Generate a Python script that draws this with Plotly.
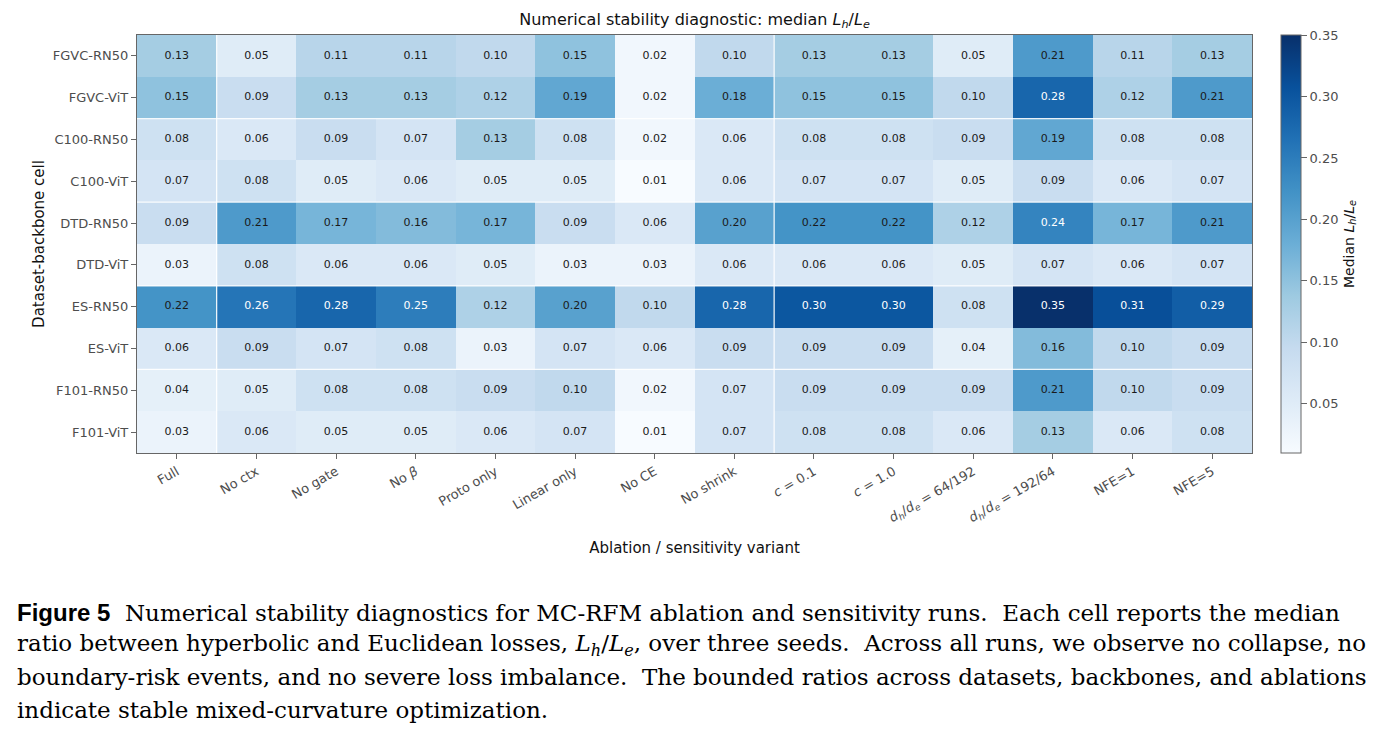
import plotly.graph_objects as go

rows = ["FGVC-RN50", "FGVC-ViT", "C100-RN50", "C100-ViT", "DTD-RN50",
        "DTD-ViT", "ES-RN50", "ES-ViT", "F101-RN50", "F101-ViT"]

cols = ["Full", "No ctx", "No gate", "No <i>β</i>", "Proto only", "Linear only",
        "No CE", "No shrink", "<i>c</i> = 0.1", "<i>c</i> = 1.0",
        "<i>d<sub>h</sub></i>/<i>d<sub>e</sub></i> = 64/192",
        "<i>d<sub>h</sub></i>/<i>d<sub>e</sub></i> = 192/64",
        "NFE=1", "NFE=5"]

fgvc_rn50 = [0.13, 0.05, 0.11, 0.11, 0.10, 0.15, 0.02, 0.10, 0.13, 0.13, 0.05, 0.21, 0.11, 0.13]
fgvc_vit  = [0.15, 0.09, 0.13, 0.13, 0.12, 0.19, 0.02, 0.18, 0.15, 0.15, 0.10, 0.28, 0.12, 0.21]
c100_rn50 = [0.08, 0.06, 0.09, 0.07, 0.13, 0.08, 0.02, 0.06, 0.08, 0.08, 0.09, 0.19, 0.08, 0.08]
c100_vit  = [0.07, 0.08, 0.05, 0.06, 0.05, 0.05, 0.01, 0.06, 0.07, 0.07, 0.05, 0.09, 0.06, 0.07]
dtd_rn50  = [0.09, 0.21, 0.17, 0.16, 0.17, 0.09, 0.06, 0.20, 0.22, 0.22, 0.12, 0.24, 0.17, 0.21]
dtd_vit   = [0.03, 0.08, 0.06, 0.06, 0.05, 0.03, 0.03, 0.06, 0.06, 0.06, 0.05, 0.07, 0.06, 0.07]
es_rn50   = [0.22, 0.26, 0.28, 0.25, 0.12, 0.20, 0.10, 0.28, 0.30, 0.30, 0.08, 0.35, 0.31, 0.29]
es_vit    = [0.06, 0.09, 0.07, 0.08, 0.03, 0.07, 0.06, 0.09, 0.09, 0.09, 0.04, 0.16, 0.10, 0.09]
f101_rn50 = [0.04, 0.05, 0.08, 0.08, 0.09, 0.10, 0.02, 0.07, 0.09, 0.09, 0.09, 0.21, 0.10, 0.09]
f101_vit  = [0.03, 0.06, 0.05, 0.05, 0.06, 0.07, 0.01, 0.07, 0.08, 0.08, 0.06, 0.13, 0.06, 0.08]

values = [fgvc_rn50, fgvc_vit, c100_rn50, c100_vit, dtd_rn50,
          dtd_vit, es_rn50, es_vit, f101_rn50, f101_vit]

cbar_ticks = [0.05, 0.10, 0.15, 0.20, 0.25, 0.30, 0.35]

caption_lines = [
    "<span style='font-family:Liberation Sans;font-size:24px'><b>Figure 5</b></span>  Numerical stability diagnostics for MC-RFM ablation and sensitivity runs.  Each cell reports the median",
    "ratio between hyperbolic and Euclidean losses, <i>L<sub>h</sub></i>/<i>L<sub>e</sub></i>, over three seeds.  Across all runs, we observe no collapse, no",
    "boundary-risk events, and no severe loss imbalance.  The bounded ratios across datasets, backbones, and ablations",
    "indicate stable mixed-curvature optimization.",
]

blues = ["#f7fbff", "#deebf7", "#c6dbef", "#9ecae1", "#6baed6",
         "#4292c6", "#2171b5", "#08519c", "#08306b"]
colorscale = [[i / (len(blues) - 1), c] for i, c in enumerate(blues)]

flat = [v for r in values for v in r]
zmin, zmax = min(flat), max(flat)

nx, ny = len(cols), len(rows)
xi = list(range(nx))
yi = list(range(ny))

fig = go.Figure()
fig.add_trace(go.Heatmap(
    z=values, x=xi, y=yi, colorscale=colorscale, zmin=zmin, zmax=zmax,
    xgap=0, ygap=0, hoverinfo="skip",
    colorbar=dict(
        x=1.026, xanchor="left", xpad=0, y=0.5, yanchor="middle", ypad=0,
        len=1, lenmode="fraction",
        thickness=20, outlinecolor="#666666", outlinewidth=1,
        ticks="outside", ticklen=6, tickcolor="#666666",
        tickvals=cbar_ticks, ticktext=[f"{t:.2f}" for t in cbar_ticks],
        tickfont=dict(family="DejaVu Sans", size=13, color="#4d4d4d"),
        title=dict(text="Median <i>L<sub>h</sub></i>/<i>L<sub>e</sub></i>", side="right",
                   font=dict(family="DejaVu Sans", size=14, color="#111111")),
    ),
))

thr = 0.23
dx, dy, dt, wx, wy, wt = [], [], [], [], [], []
for i, r in enumerate(values):
    for j, v in enumerate(r):
        if v > thr:
            wx.append(j); wy.append(i); wt.append(f"{v:.2f}")
        else:
            dx.append(j); dy.append(i); dt.append(f"{v:.2f}")
fig.add_trace(go.Scatter(x=dx, y=dy, text=dt, mode="text", hoverinfo="skip",
                         textfont=dict(family="DejaVu Sans", size=11, color="#1a1a1a"),
                         showlegend=False))
fig.add_trace(go.Scatter(x=wx, y=wy, text=wt, mode="text", hoverinfo="skip",
                         textfont=dict(family="DejaVu Sans", size=11, color="#ffffff"),
                         showlegend=False))

# faint white seams between cell groups
for b in [0.5, 7.5]:
    fig.add_shape(type="line", x0=b, x1=b, y0=-0.5, y1=ny - 0.5, xref="x", yref="y",
                  line=dict(color="rgba(255,255,255,0.9)", width=1.3), layer="above")
for b in [1.5, 3.5, 5.5, 7.5]:
    fig.add_shape(type="line", x0=-0.5, x1=nx - 0.5, y0=b, y1=b, xref="x", yref="y",
                  line=dict(color="rgba(255,255,255,0.9)", width=1.3), layer="above")

axis_common = dict(showline=True, mirror=True, linecolor="#666666", linewidth=1.2,
                   ticks="outside", ticklen=5, tickcolor="#666666", showgrid=False,
                   zeroline=False, tickfont=dict(family="DejaVu Sans", size=13, color="#4d4d4d"))

fig.update_xaxes(range=[-0.5, nx - 0.5], tickmode="array", tickvals=xi, ticktext=cols,
                 tickangle=-30,
                 title=dict(text="Ablation / sensitivity variant", standoff=16,
                            font=dict(family="DejaVu Sans", size=15, color="#111111")),
                 **axis_common)
fig.update_yaxes(range=[ny - 0.5, -0.5], tickmode="array", tickvals=yi, ticktext=rows,
                 title=dict(text="Dataset-backbone cell", standoff=4,
                            font=dict(family="DejaVu Sans", size=15, color="#111111")),
                 **axis_common)

top, bottom, left, right = 35, 453, 137, 1252
W, H = 1392, 741
for k, line in enumerate(caption_lines):
    ypix = 612 + k * 32.7
    fig.add_annotation(text=line, xref="paper", yref="paper",
                       x=(15 - left) / (right - left), y=(bottom - ypix) / (bottom - top),
                       xanchor="left", yanchor="middle", showarrow=False, align="left",
                       font=dict(family="DejaVu Serif", size=23, color="#000000"))

fig.update_layout(
    width=W, height=H,
    margin=dict(l=left, r=W - right, t=top, b=H - bottom, pad=0),
    paper_bgcolor="white", plot_bgcolor="white",
    title=dict(text="Numerical stability diagnostic: median <i>L<sub>h</sub></i>/<i>L<sub>e</sub></i>",
               x=0.5, xref="paper", xanchor="center", y=1 - 19 / H, yref="container",
               yanchor="middle", font=dict(family="DejaVu Sans", size=16, color="#111111")),
    showlegend=False,
)

fig.write_html("out.html")
